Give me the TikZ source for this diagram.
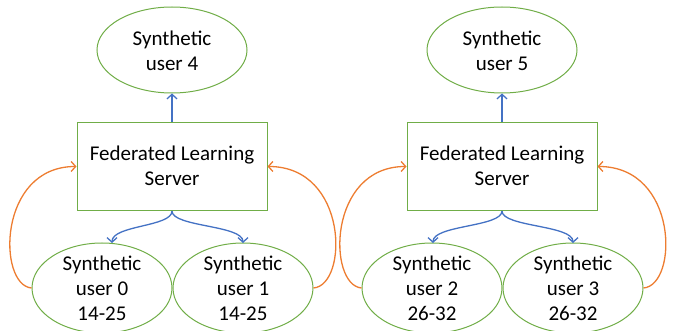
\documentclass[tikz,border=0pt]{standalone}
\usepackage{fontspec}
\setmainfont{Carlito}
\usetikzlibrary{shapes.geometric,arrows.meta,calc}
\definecolor{gr}{HTML}{70AD47}
\definecolor{bl}{HTML}{4472C4}
\definecolor{orng}{HTML}{ED7D31}
\tikzset{
  oval/.style={draw=gr, line width=1pt, ellipse, inner sep=0pt},
  srv/.style={draw=gr, line width=1pt, rectangle, minimum width=190pt, minimum height=88pt, inner sep=0pt},
  lbl/.style={align=center, font=\fontsize{21pt}{25pt}\selectfont, inner sep=0pt},
  barb/.style={-{Straight Barb[length=4.5pt,width=10pt]}},
  bluearr/.style={barb, draw=bl, line width=1.3pt},
  orarr/.style={barb, draw=orng, line width=1.3pt},
}
\begin{document}
\begin{tikzpicture}[x=1pt,y=-1pt]
\useasboundingbox (0,0) rectangle (673,331);
\foreach \g/\dx/\top/\la/\lb/\age in {L/0/4/0/1/14-25, R/330/5/2/3/26-32}{
  \node[srv] (s\g) at (172+\dx,166.5) {};
  \node[lbl] (s\g t) at ($(s\g.center)+(0,-1)$) {Federated Learning\\Server};
  \node[oval, minimum width=150pt, minimum height=86pt] (t\g) at (172+\dx,50) {};
  \node[lbl] (t\g t) at ($(t\g.center)+(0,1)$) {Synthetic\\user \top};
  \node[oval, minimum width=140pt, minimum height=90pt] (a\g) at (102+\dx,288) {};
  \node[lbl] (a\g t) at (a\g.center) {Synthetic\\user \la\\\age};
  \node[oval, minimum width=140pt, minimum height=90pt] (b\g) at (243+\dx,288) {};
  \node[lbl] (b\g t) at (b\g.center) {Synthetic\\user \lb\\\age};
  \draw[bluearr] (s\g.north) -- (t\g.south);
}
% bottom blue arrow tips
\coordinate (tipaL) at (112,243);
\coordinate (tipbL) at (243,243);
\coordinate (tipaR) at (433,243);
\coordinate (tipbR) at (573,243);
\foreach \g in {L,R}{
  \draw[bluearr] (s\g.south) .. controls ($(s\g.south)+(0,16)$) and ($(tipa\g)+(0,-18)$) .. (tipa\g);
  \draw[bluearr] (s\g.south) .. controls ($(s\g.south)+(0,16)$) and ($(tipb\g)+(0,-18)$) .. (tipb\g);
  \draw[orarr] (a\g.west) .. controls ($(a\g.west)+(-34,-3)$) and ($(s\g.west)+(-79,0)$) .. (s\g.west);
  \draw[orarr] (b\g.east) .. controls ($(b\g.east)+(35,-3)$) and ($(s\g.east)+(81,0)$) .. (s\g.east);
}
\end{tikzpicture}
\end{document}
